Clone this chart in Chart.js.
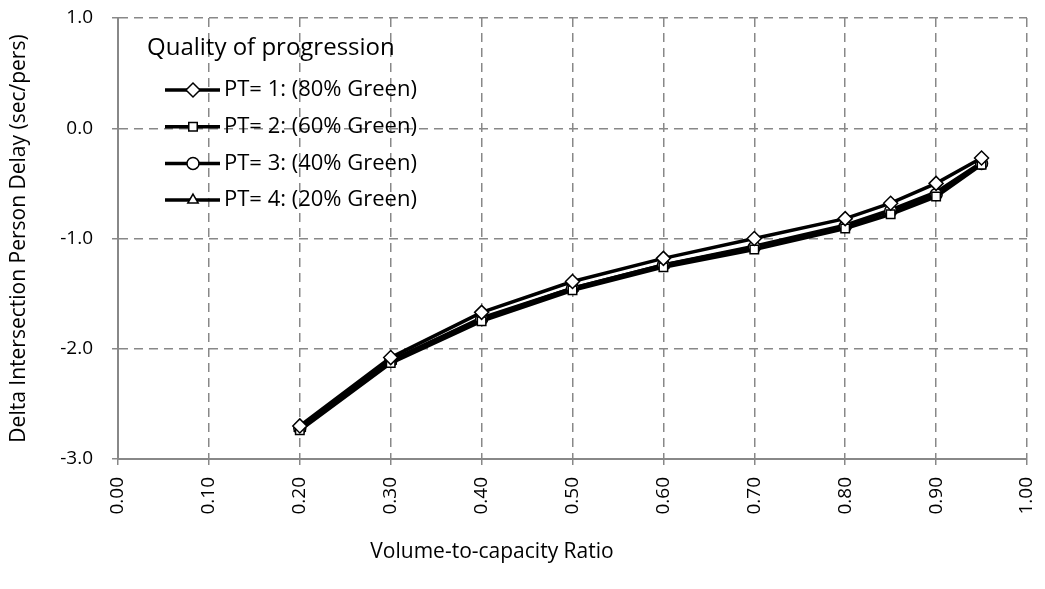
<!DOCTYPE html>
<html lang="en">
<head>
  <meta charset="UTF-8">
  <title>Delta Intersection Person Delay</title>
  <script src="https://cdn.jsdelivr.net/npm/chart.js"></script>
  <style>
    html, body { margin: 0; padding: 0; background: #fff; }
    #wrap { width: 1045px; height: 589px; }
  </style>
</head>
<body>
  <div id="wrap"><canvas id="grafico" width="1045" height="589"></canvas></div>

  <script>
    // datos
    const vcRatio = [0.20, 0.30, 0.40, 0.50, 0.60, 0.70, 0.80, 0.85, 0.90, 0.95];
    const pt1 = [-2.70, -2.08, -1.67, -1.39, -1.18, -1.00, -0.82, -0.68, -0.50, -0.27];
    const pt2 = [-2.74, -2.13, -1.75, -1.47, -1.26, -1.10, -0.91, -0.78, -0.62, -0.33];
    const pt3 = [-2.72, -2.11, -1.73, -1.45, -1.24, -1.08, -0.89, -0.75, -0.60, -0.32];
    const pt4 = [-2.72, -2.11, -1.72, -1.45, -1.24, -1.07, -0.88, -0.74, -0.58, -0.31];
    const seriesNames = ["PT= 1: (80% Green)", "PT= 2: (60% Green)", "PT= 3: (40% Green)", "PT= 4: (20% Green)"];
    const markers = ["rectRot", "rect", "circle", "triangle"];
    const xTicks = [0, 0.1, 0.2, 0.3, 0.4, 0.5, 0.6, 0.7, 0.8, 0.9, 1.0];
    const yTicks = [-3, -2, -1, 0, 1];

    const fuente = "'Open Sans', 'Noto Sans', sans-serif";
    const valores = [pt1, pt2, pt3, pt4];

    const datasets = valores.map((serie, i) => ({
      label: seriesNames[i],
      data: vcRatio.map((x, k) => ({ x: x, y: serie[k] })),
      borderColor: "#000",
      borderWidth: 3.5,
      backgroundColor: "#fff",
      pointStyle: markers[i],
      pointRadius: markers[i] === "rectRot" ? 7 : 6,
      pointBorderWidth: 1.5,
      pointBorderColor: "#000",
      pointBackgroundColor: "#fff",
      tension: 0
    }));

    // leyenda y titulo del eje x dibujados a mano
    const extras = {
      id: "extras",
      afterDraw(chart) {
        const ctx = chart.ctx;
        ctx.save();
        ctx.fillStyle = "#000";
        ctx.textBaseline = "middle";
        ctx.textAlign = "left";
        ctx.font = "24px " + fuente;
        ctx.fillText("Quality of progression", 147, 48);
        ctx.font = "22px " + fuente;
        seriesNames.forEach((name, i) => {
          const y = 90 + i * 36.7;
          ctx.strokeStyle = "#000";
          ctx.lineWidth = 3.5;
          ctx.beginPath();
          ctx.moveTo(165, y);
          ctx.lineTo(220, y);
          ctx.stroke();
          ctx.lineWidth = 1.5;
          ctx.fillStyle = "#fff";
          Chart.helpers.drawPoint(ctx, {
            pointStyle: markers[i],
            radius: markers[i] === "rectRot" ? 7 : 6,
            rotation: 0,
            borderWidth: 1.5
          }, 193, y);
          ctx.fillStyle = "#000";
          ctx.fillText(name, 224, y);
        });
        ctx.font = "21px " + fuente;
        ctx.textAlign = "center";
        ctx.fillText("Volume-to-capacity Ratio", 492, 552);
        ctx.restore();
      }
    };

    new Chart(document.getElementById("grafico"), {
      type: "line",
      data: { datasets: datasets },
      options: {
        responsive: false,
        animation: false,
        layout: { padding: { top: 18, right: 18, left: 0, bottom: 0 } },
        plugins: {
          legend: { display: false },
          tooltip: { enabled: false }
        },
        scales: {
          x: {
            type: "linear",
            min: 0,
            max: 1,
            afterBuildTicks: s => { s.ticks = xTicks.map(v => ({ value: v })); },
            afterFit: s => { s.height = 130; s.paddingLeft = 0; s.paddingRight = 0; },
            ticks: {
              minRotation: 90,
              maxRotation: 90,
              color: "#000",
              font: { family: fuente, size: 19 },
              padding: 12,
              callback: v => v.toFixed(2)
            },
            grid: {
              color: "#888",
              lineWidth: 1.5,
              tickLength: 6,
              tickColor: "#888"
            },
            border: { color: "#888", width: 2, dash: [9, 6] }
          },
          y: {
            min: -3,
            max: 1,
            afterBuildTicks: s => { s.ticks = yTicks.map(v => ({ value: v })); },
            afterFit: s => { s.width = 118; s.paddingTop = 0; s.paddingBottom = 0; },
            ticks: {
              color: "#000",
              font: { family: fuente, size: 19 },
              padding: 19,
              callback: v => v.toFixed(1)
            },
            grid: {
              color: "#888",
              lineWidth: 1.5,
              tickLength: 6,
              tickColor: "#888"
            },
            border: { color: "#888", width: 2, dash: [9, 6] },
            title: {
              display: true,
              text: "Delta Intersection Person Delay (sec/pers)",
              color: "#000",
              font: { family: fuente, size: 21 },
              padding: { top: 6, bottom: 0 }
            }
          }
        }
      },
      plugins: [extras]
    });
  </script>
</body>
</html>
